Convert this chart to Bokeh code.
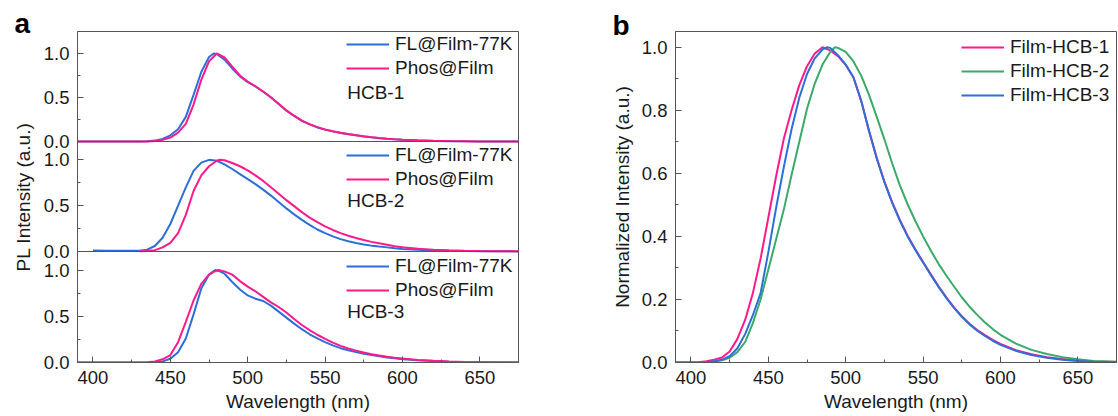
from bokeh.plotting import figure
from bokeh.layouts import row
from bokeh.models import Range1d, FixedTicker, Legend, LegendItem, Label, Span, NumeralTickFormatter
from bokeh.embed import file_html
from bokeh.resources import INLINE

# ---------------- panel a: fluorescence (77 K) vs phosphorescence of the films ----------------
hcb1_fl_wl = [390, 400, 410, 420, 430, 435, 440, 445, 450, 455, 460, 465, 470, 475, 478, 480, 485, 490,
              495, 500, 505, 510, 515, 520, 525, 530, 535, 540, 545, 550, 555, 560, 565, 570, 575, 580,
              585, 590, 595, 600, 610, 620, 630, 640, 650, 660, 680]
hcb1_fl = [0, 0, 0, 0, 0.001, 0.003, 0.01, 0.03, 0.07, 0.14, 0.28, 0.53, 0.79, 0.96, 1.0, 0.995, 0.93, 0.83,
           0.74, 0.675, 0.625, 0.565, 0.5, 0.425, 0.35, 0.29, 0.235, 0.195, 0.16, 0.135, 0.115, 0.097, 0.083,
           0.07, 0.058, 0.047, 0.038, 0.031, 0.025, 0.02, 0.012, 0.007, 0.004, 0.002, 0.001, 0, 0]

hcb1_ph_wl = [390, 400, 410, 420, 430, 435, 440, 445, 450, 455, 460, 465, 470, 475, 480, 485, 490,
              495, 500, 505, 510, 515, 520, 525, 530, 535, 540, 545, 550, 555, 560, 565, 570, 575, 580,
              585, 590, 595, 600, 610, 620, 630, 640, 650, 660, 680]
hcb1_ph = [0, 0, 0, 0, 0, 0.001, 0.005, 0.018, 0.045, 0.1, 0.2, 0.42, 0.7, 0.91, 1.0, 0.955, 0.85,
           0.75, 0.68, 0.628, 0.568, 0.503, 0.428, 0.353, 0.293, 0.238, 0.198, 0.163, 0.137, 0.117, 0.099,
           0.085, 0.072, 0.06, 0.049, 0.04, 0.032, 0.026, 0.021, 0.013, 0.008, 0.005, 0.003, 0.001, 0, 0]

hcb2_fl_wl = [400, 410, 420, 430, 435, 440, 445, 450, 455, 460, 465, 470, 475, 480, 485, 490, 495, 500,
              505, 510, 515, 520, 525, 530, 535, 540, 545, 550, 555, 560, 565, 570, 575, 580, 585, 590,
              595, 600, 610, 620, 630, 640, 650, 660, 680]
hcb2_fl = [0.01, 0.008, 0.007, 0.008, 0.02, 0.06, 0.15, 0.3, 0.5, 0.7, 0.88, 0.97, 1.0, 0.99, 0.95, 0.9,
           0.845, 0.79, 0.735, 0.675, 0.61, 0.54, 0.47, 0.405, 0.345, 0.29, 0.24, 0.2, 0.165, 0.135, 0.112,
           0.092, 0.077, 0.064, 0.054, 0.045, 0.036, 0.028, 0.018, 0.012, 0.008, 0.005, 0.003, 0.002, 0.001]

hcb2_ph_wl = [430, 435, 440, 445, 450, 455, 460, 465, 470, 475, 480, 482, 485, 490, 495, 500, 505, 510,
              515, 520, 525, 530, 535, 540, 545, 550, 555, 560, 565, 570, 575, 580, 585, 590, 595, 600,
              610, 620, 630, 640, 650, 660, 680]
hcb2_ph = [0.003, 0.005, 0.015, 0.045, 0.095, 0.2, 0.4, 0.66, 0.83, 0.93, 0.99, 1.0, 0.995, 0.965, 0.93,
           0.885, 0.83, 0.77, 0.7, 0.63, 0.56, 0.495, 0.43, 0.37, 0.32, 0.275, 0.235, 0.2, 0.172, 0.148,
           0.125, 0.105, 0.089, 0.074, 0.058, 0.046, 0.03, 0.02, 0.013, 0.008, 0.005, 0.003, 0.002]

hcb3_fl_wl = [390, 400, 410, 420, 430, 435, 440, 445, 450, 455, 460, 465, 470, 475, 479, 482, 485, 490,
              495, 500, 505, 510, 515, 520, 525, 530, 535, 540, 545, 550, 555, 560, 565, 570, 575, 580,
              585, 590, 595, 600, 610, 620, 630, 640, 650, 660, 680]
hcb3_fl = [0, 0, 0, 0, 0, 0.001, 0.003, 0.012, 0.04, 0.11, 0.26, 0.52, 0.8, 0.95, 1.0, 0.985, 0.96, 0.87,
           0.79, 0.725, 0.69, 0.665, 0.615, 0.55, 0.485, 0.42, 0.36, 0.305, 0.26, 0.22, 0.185, 0.155, 0.132,
           0.112, 0.095, 0.08, 0.067, 0.055, 0.045, 0.036, 0.024, 0.015, 0.009, 0.005, 0.003, 0.001, 0]

hcb3_ph_wl = [390, 400, 410, 420, 430, 435, 440, 445, 450, 455, 460, 465, 470, 475, 478, 481, 485, 490,
              495, 500, 505, 510, 515, 520, 525, 530, 535, 540, 545, 550, 555, 560, 565, 570, 575, 580,
              585, 590, 595, 600, 610, 620, 630, 640, 650, 660, 680]
hcb3_ph = [0, 0, 0, 0, 0.001, 0.004, 0.012, 0.035, 0.08, 0.22, 0.44, 0.67, 0.85, 0.95, 0.98, 1.0, 0.985,
           0.95, 0.88, 0.82, 0.77, 0.71, 0.65, 0.6, 0.54, 0.47, 0.405, 0.35, 0.3, 0.255, 0.215, 0.18, 0.152,
           0.128, 0.108, 0.09, 0.076, 0.063, 0.052, 0.042, 0.028, 0.018, 0.011, 0.006, 0.003, 0.002, 0.001]

# ---------------- panel b: normalized film emission ----------------
film1_wl = [390, 400, 405, 410, 415, 420, 425, 430, 435, 440, 445, 450, 455, 460, 465, 470, 475, 480, 485,
            490, 495, 500, 505, 510, 515, 520, 525, 530, 535, 540, 545, 550, 555, 560, 565, 570, 575, 580,
            585, 590, 595, 600, 610, 620, 630, 640, 650, 660, 680]
film1 = [0, 0, 0.001, 0.004, 0.009, 0.016, 0.035, 0.075, 0.135, 0.22, 0.33, 0.46, 0.59, 0.71, 0.8, 0.88,
         0.94, 0.98, 1.0, 0.99, 0.972, 0.944, 0.904, 0.83, 0.737, 0.65, 0.574, 0.509, 0.452, 0.402, 0.359,
         0.319, 0.28, 0.242, 0.207, 0.175, 0.147, 0.123, 0.103, 0.087, 0.072, 0.059, 0.039, 0.026, 0.017,
         0.011, 0.006, 0.003, 0.001]

film2_wl = [390, 400, 410, 415, 420, 425, 430, 435, 440, 445, 450, 455, 460, 465, 470, 475, 480, 485, 490,
            493, 495, 500, 505, 510, 515, 520, 525, 530, 535, 540, 545, 550, 555, 560, 565, 570, 575, 580,
            585, 590, 595, 600, 610, 620, 630, 640, 650, 660, 680]
film2 = [0, 0, 0.001, 0.003, 0.007, 0.015, 0.033, 0.065, 0.125, 0.2, 0.295, 0.39, 0.485, 0.595, 0.7, 0.805,
         0.885, 0.945, 0.985, 1.0, 0.998, 0.985, 0.955, 0.91, 0.85, 0.78, 0.708, 0.632, 0.562, 0.502, 0.449,
         0.4, 0.355, 0.313, 0.276, 0.241, 0.207, 0.177, 0.151, 0.127, 0.106, 0.088, 0.06, 0.04, 0.027, 0.017,
         0.01, 0.005, 0.002]

film3_wl = [390, 400, 405, 410, 415, 420, 425, 430, 435, 440, 445, 450, 455, 460, 465, 470, 475, 480, 485,
            488, 490, 495, 500, 505, 510, 515, 520, 525, 530, 535, 540, 545, 550, 555, 560, 565, 570, 575,
            580, 585, 590, 595, 600, 610, 620, 630, 640, 650, 660, 680]
film3 = [0, 0, 0, 0.001, 0.004, 0.009, 0.02, 0.045, 0.09, 0.15, 0.22, 0.35, 0.49, 0.62, 0.74, 0.84, 0.915,
         0.965, 0.993, 1.0, 0.998, 0.975, 0.945, 0.905, 0.83, 0.735, 0.648, 0.572, 0.507, 0.45, 0.4, 0.357,
         0.317, 0.278, 0.24, 0.205, 0.173, 0.145, 0.121, 0.101, 0.084, 0.069, 0.056, 0.037, 0.024, 0.015,
         0.009, 0.005, 0.002, 0]

x_major = [400, 450, 500, 550, 600, 650]
x_minor = [425, 475, 525, 575, 625, 675]
ya_major = [0, 0.5, 1.0]
ya_minor = [0.25, 0.75]
yb_major = [0, 0.2, 0.4, 0.6, 0.8, 1.0]
yb_minor = [0.1, 0.3, 0.5, 0.7, 0.9]

BLUE = "#2c6fd8"
PINK = "#ff1a8c"
GREEN = "#3aaa68"
FRAME = "#555555"
TEXT = "#1a1a1a"
FONT = "Liberation Sans"

FRAME_H = 331  # plot-area height in px shared by both panels

# stacked layers of panel a, top to bottom:
# (name, FL wl, FL, Phos wl, Phos, y top value, layer bottom above frame bottom [px], layer height [px])
layers = [
    ("HCB-1", hcb1_fl_wl, hcb1_fl, hcb1_ph_wl, hcb1_ph, 1.25, 221, 110),
    ("HCB-2", hcb2_fl_wl, hcb2_fl, hcb2_ph_wl, hcb2_ph, 1.2, 111, 110),
    ("HCB-3", hcb3_fl_wl, hcb3_fl, hcb3_ph_wl, hcb3_ph, 1.2, 0, 111),
]
legend_bottoms = [283, 172, 61]


def style_axis(ax, ticker):
    ax.ticker = ticker
    ax.axis_line_color = FRAME
    ax.major_tick_line_color = FRAME
    ax.minor_tick_line_color = FRAME
    ax.major_tick_in = 6
    ax.major_tick_out = 0
    ax.minor_tick_in = 3
    ax.minor_tick_out = 0
    ax.major_label_text_font = FONT
    ax.major_label_text_font_size = "18.5px"
    ax.major_label_text_color = TEXT
    ax.major_label_standoff = 8
    ax.axis_label_text_font = FONT
    ax.axis_label_text_font_size = "19px"
    ax.axis_label_text_font_style = "normal"
    ax.axis_label_text_color = TEXT


def make_legend(items, loc):
    return Legend(items=items, location=loc, glyph_width=43, glyph_height=22, label_height=22,
                  label_standoff=6, spacing=2, padding=0, margin=0, border_line_color=None,
                  background_fill_alpha=0, label_text_font=FONT, label_text_font_size="19px",
                  label_text_color=TEXT)


def base_figure(width, left, right, letter, letter_drop):
    p = figure(width=width, height=416, x_range=Range1d(390, 675),
               min_border_left=left, min_border_right=right, min_border_top=31, min_border_bottom=54,
               toolbar_location=None, output_backend="svg")
    p.grid.visible = False
    p.outline_line_color = FRAME
    p.outline_line_width = 1
    style_axis(p.xaxis[0], FixedTicker(ticks=x_major, minor_ticks=x_minor))
    p.xaxis[0].axis_label = "Wavelength (nm)"
    p.xaxis[0].axis_label_standoff = 4
    # panel letter, placed in the top margin to the left of the plot area
    p.title.text = letter
    p.title.align = "left"
    p.title.offset = -63
    p.title.standoff = -letter_drop
    p.title.text_font = FONT
    p.title.text_font_size = "28px"
    p.title.text_font_style = "bold"
    p.title.text_color = "black"
    return p


# ---- panel a: three stacked layers sharing one frame and one wavelength axis ----
pa = base_figure(560, 77, 42, "a", 15)
pa.y_range = Range1d(0, FRAME_H)
tick_pos, minor_pos, tick_text = [], [], {}
for i, (name, fl_wl, fl, ph_wl, ph, ytop, bottom, height) in enumerate(layers):
    unit = height / ytop
    start = -bottom / unit
    pa.extra_y_ranges[name] = Range1d(start, start + FRAME_H / unit)
    for v in ya_major:
        pos = bottom + v * unit
        tick_pos.append(pos)
        tick_text[pos] = f"{v:.1f}"
    for v in ya_minor:
        minor_pos.append(bottom + v * unit)
    if bottom > 0:
        pa.add_layout(Span(location=0, dimension="width", y_range_name=name,
                           line_color=FRAME, line_width=1))
    r_fl = pa.line(fl_wl, fl, y_range_name=name, color=BLUE, line_width=2)
    r_ph = pa.line(ph_wl, ph, y_range_name=name, color=PINK, line_width=2)
    pa.add_layout(make_legend([LegendItem(label="FL@Film-77K", renderers=[r_fl]),
                               LegendItem(label="Phos@Film", renderers=[r_ph])], (269, legend_bottoms[i])))
    pa.add_layout(Label(x=564.3, y=0.555, y_range_name=name, text=name, text_baseline="middle",
                        text_font=FONT, text_font_size="19px", text_color=TEXT))

style_axis(pa.yaxis[0], FixedTicker(ticks=tick_pos, minor_ticks=minor_pos))
pa.yaxis[0].major_label_overrides = tick_text
pa.yaxis[0].axis_label = "PL Intensity (a.u.)"
pa.yaxis[0].axis_label_standoff = 7

# ---- panel b ----
pb = base_figure(558, 115, 2, "b", 19)
pb.y_range = Range1d(0, 1.05)
style_axis(pb.yaxis[0], FixedTicker(ticks=yb_major, minor_ticks=yb_minor))
pb.yaxis[0].formatter = NumeralTickFormatter(format="0.0")
pb.yaxis[0].axis_label = "Normalized Intensity (a.u.)"
pb.yaxis[0].axis_label_standoff = 6
r1 = pb.line(film1_wl, film1, color=PINK, line_width=2)
r2 = pb.line(film2_wl, film2, color=GREEN, line_width=2)
r3 = pb.line(film3_wl, film3, color=BLUE, line_width=2)
pb.add_layout(make_legend([LegendItem(label="Film-HCB-1", renderers=[r1]),
                           LegendItem(label="Film-HCB-2", renderers=[r2]),
                           LegendItem(label="Film-HCB-3", renderers=[r3])], (286, 256)))

layout = row(pa, pb)

with open("out.html", "w") as f:
    f.write(file_html(layout, INLINE))
